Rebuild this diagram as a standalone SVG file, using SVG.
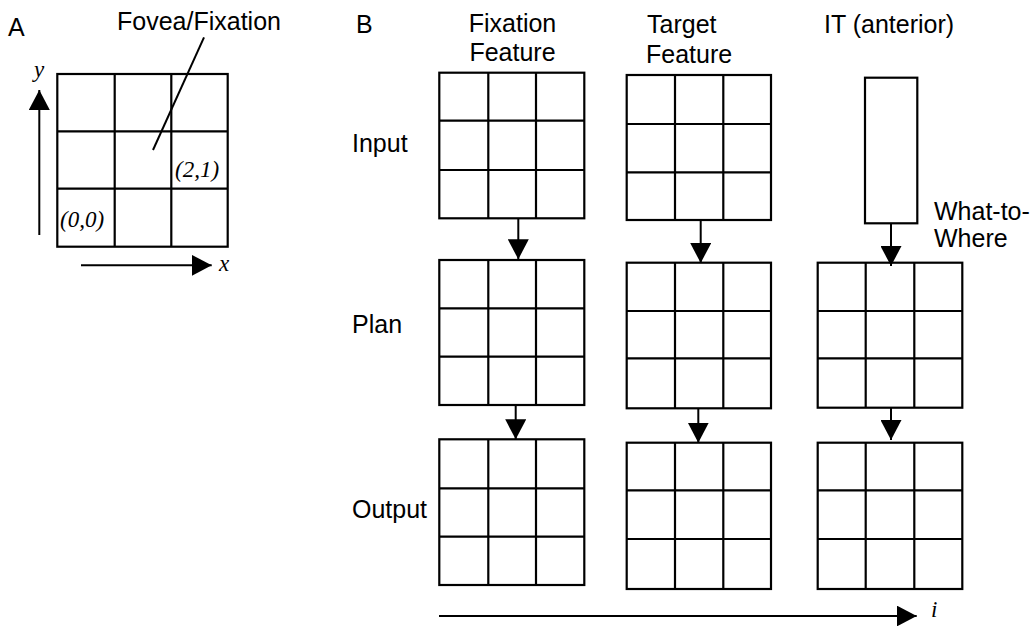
<svg xmlns="http://www.w3.org/2000/svg" width="1035" height="626" viewBox="0 0 1035 626">
<style>
.g{fill:none;stroke:#000;stroke-width:2.2}
.c{fill:none;stroke:#000;stroke-width:2}
.t{font-family:"Liberation Sans",Arial,sans-serif;font-size:25px;fill:#000}
.m{text-anchor:middle}
.it{font-family:"Liberation Serif","Times New Roman",serif;font-style:italic;font-size:23px;fill:#000}
</style>
<defs>
<marker id="ah" markerUnits="userSpaceOnUse" markerWidth="20" markerHeight="21" refX="20" refY="10.5" orient="auto">
<path d="M0,0 L20,10.5 L0,21 Z" fill="#000"/>
</marker>
</defs>
<rect width="1035" height="626" fill="#fff"/>

<g id="panelA">
<text class="t" x="8" y="36">A</text>
<g id="gridA">
<rect class="g" x="57.3" y="74" width="170.4" height="172.7"/>
<path class="g" d="M114.7,74V246.7M171.3,74V246.7M57.3,131.3H227.7M57.3,188.7H227.7"/>
</g>
<text class="t" x="117" y="29.5">Fovea/Fixation</text>
<text class="it" x="175" y="177">(2,1)</text>
<text class="it" x="60" y="227">(0,0)</text>
<text class="it" x="34" y="77" font-size="24">y</text>
<text class="it" x="219" y="271" font-size="24">x</text>
</g>

<g id="panelB-labels">
<text class="t" x="356" y="33.3">B</text>
<text class="t m" x="512.5" y="31.7">Fixation</text>
<text class="t m" x="512.5" y="61">Feature</text>
<text class="t" x="647" y="33.3">Target</text>
<text class="t" x="646" y="63.3">Feature</text>
<text class="t" x="824" y="33">IT (anterior)</text>
<text class="t" x="934" y="219.5">What-to-</text>
<text class="t" x="934" y="246.7">Where</text>
<text class="t" x="352" y="151.7">Input</text>
<text class="t" x="352" y="332.7">Plan</text>
<text class="t" x="352" y="518.3">Output</text>
<text class="it" x="931" y="617" font-size="24">i</text>
</g>

<g id="fix-input">
<rect class="g" x="439.3" y="72.7" width="145" height="145.6"/>
<path class="g" d="M488.3,72.7V218.3M536,72.7V218.3M439.3,120.7H584.3M439.3,170H584.3"/>
</g>
<g id="target-input">
<rect class="g" x="626.7" y="75" width="144.3" height="145"/>
<path class="g" d="M675,75V220M723.3,75V220M626.7,124H771M626.7,172.3H771"/>
</g>
<g id="it-input">
<rect class="g" x="865" y="77.7" width="52.3" height="145.6"/>
</g>

<g id="fix-plan">
<rect class="g" x="439.3" y="260" width="145" height="145"/>
<path class="g" d="M488.3,260V405M536,260V405M439.3,308.3H584.3M439.3,356.7H584.3"/>
</g>
<g id="target-plan">
<rect class="g" x="626.7" y="262.7" width="144.3" height="145.6"/>
<path class="g" d="M675,262.7V408.3M723.3,262.7V408.3M626.7,311H771M626.7,358.3H771"/>
</g>
<g id="it-plan">
<rect class="g" x="817.7" y="262.7" width="144.6" height="145"/>
<path class="g" d="M865.7,262.7V407.7M914.3,262.7V407.7M817.7,311H962.3M817.7,358.3H962.3"/>
</g>

<g id="fix-output">
<rect class="g" x="439.3" y="439.3" width="145" height="145.7"/>
<path class="g" d="M488.3,439.3V585M536,439.3V585M439.3,488.3H584.3M439.3,536.7H584.3"/>
</g>
<g id="target-output">
<rect class="g" x="626.7" y="442.7" width="144.3" height="146.3"/>
<path class="g" d="M675,442.7V589M723.3,442.7V589M626.7,490.3H771M626.7,539H771"/>
</g>
<g id="it-output">
<rect class="g" x="817.7" y="442.7" width="144.6" height="146.3"/>
<path class="g" d="M865.7,442.7V589M914.3,442.7V589M817.7,490.3H962.3M817.7,539H962.3"/>
</g>

<g id="connectors">
<line class="c" x1="153" y1="150" x2="204" y2="37.3"/>
<line class="c" x1="39.3" y1="235" x2="39.3" y2="90" marker-end="url(#ah)"/>
<line class="c" x1="81" y1="265.3" x2="211.7" y2="265.3" marker-end="url(#ah)"/>
<line class="c" x1="518.3" y1="218.3" x2="518.3" y2="259.3" marker-end="url(#ah)"/>
<line class="c" x1="700.7" y1="220" x2="700.7" y2="263" marker-end="url(#ah)"/>
<line class="c" x1="891" y1="223.3" x2="891" y2="266" marker-end="url(#ah)"/>
<line class="c" x1="515.7" y1="405" x2="515.7" y2="439.3" marker-end="url(#ah)"/>
<line class="c" x1="698.3" y1="408.3" x2="698.3" y2="442.7" marker-end="url(#ah)"/>
<line class="c" x1="891" y1="407.7" x2="891" y2="440" marker-end="url(#ah)"/>
<line class="c" x1="439" y1="616" x2="916.7" y2="616" marker-end="url(#ah)"/>
</g>
</svg>
